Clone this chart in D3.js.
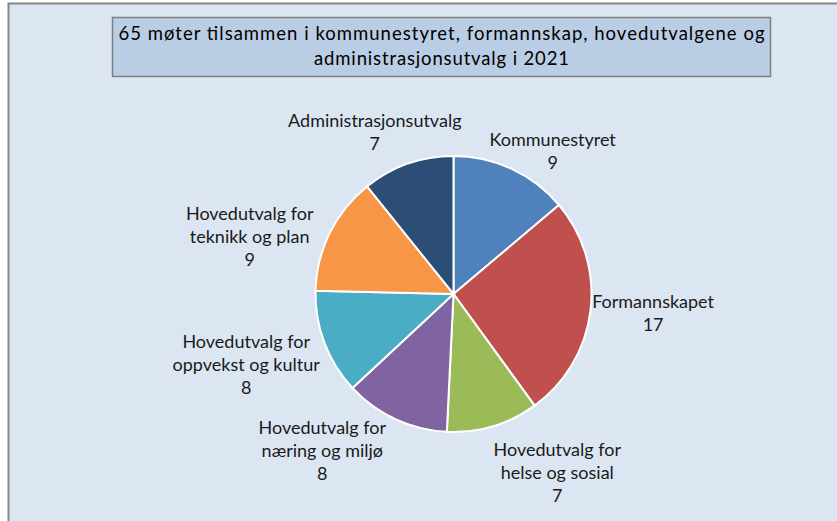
<!DOCTYPE html>
<html>
<head>
<meta charset="utf-8">
<script src="https://cdn.jsdelivr.net/npm/d3@7"></script>
<style>
  body { margin: 0; background: #fff; }
  svg { display: block; font-family: Lato, "Liberation Sans", sans-serif; }
</style>
</head>
<body>
<svg width="837" height="521"></svg>
<script>
// data
let names = [
    ['Kommunestyret'],
    ['Formannskapet'],
    ['Hovedutvalg for', 'helse og sosial'],
    ['Hovedutvalg for', 'næring og miljø'],
    ['Hovedutvalg for', 'oppvekst og kultur'],
    ['Hovedutvalg for', 'teknikk og plan'],
    ['Administrasjonsutvalg'],
];
let meetings = [9, 17, 7, 8, 8, 9, 7];
let titleLines = ['65 møter tilsammen i kommunestyret, formannskap, hovedutvalgene og',
                  'administrasjonsutvalg i 2021'];

// layout
let colors = ['#4f81bd', '#c0504d', '#9bbb59', '#8064a2', '#4bacc6', '#f79646', '#2c4d75'];
let cx = 453.5, cy = 294, radius = 138, labelRadius = 195;
let labelNudge = [[17, 34], [6, -4], [48, -8], [-49, -20], [-25, 2], [-29, 29], [-14, 22]];
let titleWidths = [646, 255];
let lineHeight = 23;

let svg = d3.select('svg');

svg.append('rect')
    .attr('x', 8.5).attr('y', 3.5)
    .attr('width', 900).attr('height', 600)
    .attr('fill', '#dce6f2')
    .attr('stroke', '#868686').attr('stroke-width', 2);

svg.append('rect')
    .attr('x', 112.5).attr('y', 17.5)
    .attr('width', 658).attr('height', 59)
    .attr('fill', '#b9cde5')
    .attr('stroke', '#7f7f7f').attr('stroke-width', 1.5);

svg.append('g').selectAll('text').data(titleLines).enter().append('text')
    .attr('x', 441.5)
    .attr('y', function(d, i) {return 40 + i * 25})
    .attr('text-anchor', 'middle')
    .attr('font-size', 18.5)
    .attr('textLength', function(d, i) {return titleWidths[i]})
    .attr('lengthAdjust', 'spacing')
    .attr('fill', '#000')
    .text(function(d) {return d});

let rows = meetings.map(function(v, i) {return {name: names[i], value: v, color: colors[i], nudge: labelNudge[i]}});
let pie = d3.pie().sort(null).value(function(d) {return d.value});
let arc = d3.arc().innerRadius(0).outerRadius(radius);
let arcs = pie(rows);

let g = svg.append('g').attr('transform', 'translate(' + cx + ',' + cy + ')');

g.selectAll('path').data(arcs).enter().append('path')
    .attr('d', arc)
    .attr('fill', function(d) {return d.data.color})
    .attr('stroke', '#fff')
    .attr('stroke-width', 2);

let labels = g.selectAll('g.label').data(arcs).enter().append('g')
    .attr('class', 'label')
    .attr('transform', function(d) {
        let a = (d.startAngle + d.endAngle) / 2;
        let x = Math.sin(a) * labelRadius + d.data.nudge[0];
        let y = -Math.cos(a) * labelRadius + d.data.nudge[1];
        return 'translate(' + x + ',' + y + ')';
    });

labels.each(function(d) {
    let lines = d.data.name.concat(String(d.data.value));
    let top = -(lines.length - 1) * lineHeight / 2 + 6;
    d3.select(this).selectAll('text').data(lines).enter().append('text')
        .attr('y', function(t, i) {return top + i * lineHeight})
        .attr('text-anchor', 'middle')
        .attr('font-size', 18)
        .attr('fill', '#1a1a1a')
        .text(function(t) {return t});
});
</script>
</body>
</html>
